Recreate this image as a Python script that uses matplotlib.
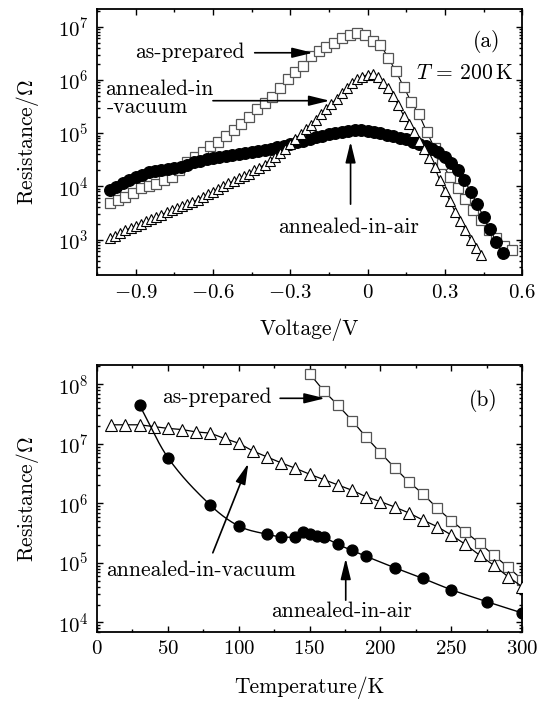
import numpy as np
import matplotlib
matplotlib.use("Agg")
import matplotlib.pyplot as plt
from matplotlib.ticker import LogLocator, MultipleLocator, NullFormatter

plt.rcParams["font.family"] = "cmr10"
plt.rcParams["mathtext.fontset"] = "cm"
plt.rcParams["axes.formatter.use_mathtext"] = True

# (a) resistance vs voltage at T = 200 K, values as log10(R / Ohm)
V_prep = [-1.00, -0.97, -0.94, -0.91, -0.88, -0.85, -0.82, -0.79, -0.76, -0.73,
          -0.70, -0.67, -0.64, -0.61, -0.58, -0.55, -0.52, -0.49, -0.46, -0.43,
          -0.40, -0.37, -0.34, -0.31, -0.28, -0.25, -0.22, -0.19, -0.16, -0.13,
          -0.10, -0.07, -0.04, -0.01, 0.02, 0.05, 0.08, 0.11, 0.14, 0.17,
          0.20, 0.23, 0.26, 0.29, 0.32, 0.35, 0.38, 0.41, 0.44, 0.47,
          0.50, 0.53, 0.56]
logR_prep = [3.68, 3.74, 3.80, 3.88, 3.96, 4.00, 4.05, 4.11, 4.18, 4.30,
             4.45, 4.56, 4.65, 4.76, 4.84, 4.94, 5.06, 5.18, 5.31, 5.46,
             5.57, 5.68, 5.84, 6.02, 6.14, 6.26, 6.44, 6.54, 6.61, 6.69,
             6.78, 6.84, 6.88, 6.85, 6.74, 6.66, 6.42, 6.16, 5.87, 5.58,
             5.35, 5.02, 4.72, 4.42, 4.18, 3.96, 3.76, 3.56, 3.37, 3.18,
             3.02, 2.88, 2.80]

V_air = [-1.000, -0.975, -0.950, -0.925, -0.900, -0.875, -0.850, -0.825, -0.800, -0.775,
         -0.750, -0.725, -0.700, -0.675, -0.650, -0.625, -0.600, -0.575, -0.550, -0.525,
         -0.500, -0.475, -0.450, -0.425, -0.400, -0.375, -0.350, -0.325, -0.300, -0.275,
         -0.250, -0.225, -0.200, -0.175, -0.150, -0.125, -0.100, -0.075, -0.050, -0.025,
         0.000, 0.025, 0.050, 0.075, 0.100, 0.125, 0.150, 0.175, 0.200, 0.225,
         0.250, 0.275, 0.300, 0.325, 0.350, 0.375, 0.400, 0.425, 0.450, 0.475,
         0.500, 0.525]
logR_air = [3.93, 3.99, 4.06, 4.12, 4.17, 4.22, 4.26, 4.29, 4.31, 4.33,
            4.35, 4.37, 4.41, 4.45, 4.48, 4.51, 4.53, 4.55, 4.57, 4.59,
            4.61, 4.63, 4.65, 4.67, 4.69, 4.71, 4.73, 4.76, 4.80, 4.83,
            4.86, 4.89, 4.92, 4.95, 4.98, 5.00, 5.02, 5.04, 5.05, 5.05,
            5.04, 5.03, 5.00, 4.97, 4.94, 4.91, 4.88, 4.84, 4.80, 4.76,
            4.71, 4.65, 4.55, 4.44, 4.31, 4.12, 3.90, 3.67, 3.43, 3.19,
            2.96, 2.74]

V_vac = [-1.00, -0.98, -0.96, -0.94, -0.92, -0.90, -0.88, -0.86, -0.84, -0.82,
         -0.80, -0.78, -0.76, -0.74, -0.72, -0.70, -0.68, -0.66, -0.64, -0.62,
         -0.60, -0.58, -0.56, -0.54, -0.52, -0.50, -0.48, -0.46, -0.44, -0.42,
         -0.40, -0.38, -0.36, -0.34, -0.32, -0.30, -0.28, -0.26, -0.24, -0.22,
         -0.20, -0.18, -0.16, -0.14, -0.12, -0.10, -0.08, -0.06, -0.04, -0.02,
         0.00, 0.02, 0.04, 0.06, 0.08, 0.10, 0.12, 0.14, 0.16, 0.18,
         0.20, 0.22, 0.24, 0.26, 0.28, 0.30, 0.32, 0.34, 0.36, 0.38,
         0.40, 0.42, 0.44]
logR_vac = [3.02, 3.07, 3.12, 3.17, 3.22, 3.26, 3.30, 3.34, 3.38, 3.42,
            3.47, 3.51, 3.55, 3.59, 3.63, 3.67, 3.70, 3.75, 3.80, 3.85,
            3.90, 3.95, 4.01, 4.06, 4.10, 4.15, 4.20, 4.24, 4.30, 4.35,
            4.41, 4.48, 4.55, 4.62, 4.71, 4.80, 4.89, 4.98, 5.07, 5.16,
            5.25, 5.35, 5.45, 5.55, 5.65, 5.75, 5.85, 5.94, 6.01, 6.06,
            6.10, 6.12, 6.06, 5.95, 5.84, 5.70, 5.52, 5.33, 5.17, 5.03,
            4.85, 4.70, 4.53, 4.36, 4.12, 3.92, 3.72, 3.52, 3.35, 3.18,
            3.00, 2.85, 2.71]

# (b) resistance vs temperature
T_prep = [150, 160, 170, 180, 190, 200, 210, 220, 230, 240, 250, 260, 270, 280, 290, 300]
logRT_prep = [8.18, 7.89, 7.65, 7.39, 7.11, 6.85, 6.60, 6.36, 6.16, 5.92,
              5.71, 5.52, 5.33, 5.13, 4.93, 4.72]

T_vac = [10, 20, 30, 40, 50, 60, 70, 80, 90, 100, 110, 120, 130, 140, 150,
         160, 170, 180, 190, 200, 210, 220, 230, 240, 250, 260, 270, 280, 290, 300]
logRT_vac = [7.32, 7.32, 7.32, 7.29, 7.26, 7.24, 7.20, 7.18, 7.09, 7.01,
             6.88, 6.78, 6.68, 6.59, 6.49, 6.40, 6.31, 6.22, 6.11, 6.03,
             5.94, 5.84, 5.72, 5.61, 5.47, 5.31, 5.13, 4.96, 4.77, 4.60]

T_air = [30, 50, 80, 100, 120, 130, 140, 145, 150, 155, 160, 170, 180, 190, 210, 230, 250, 275, 300]
logRT_air = [7.65, 6.77, 5.97, 5.62, 5.48, 5.44, 5.44, 5.52, 5.48, 5.45,
             5.43, 5.31, 5.21, 5.11, 4.92, 4.74, 4.55, 4.35, 4.16]

xticks_a = [-0.9, -0.6, -0.3, 0, 0.3, 0.6]
xlabels_a = ["$-0.9$", "$-0.6$", "$-0.3$", "$0$", "$0.3$", "$0.6$"]
xticks_b = [0, 50, 100, 150, 200, 250, 300]

FS = 15
ANN = 15.5

fig = plt.figure(figsize=(5.5, 7.02), dpi=100)
ax1 = fig.add_axes([0.1764, 0.608, 0.773, 0.379])
ax2 = fig.add_axes([0.1764, 0.0997, 0.773, 0.380])


def style_axis(ax):
    ax.set_yscale("log")
    ax.yaxis.set_major_locator(LogLocator(base=10))
    ax.yaxis.set_minor_locator(LogLocator(base=10, subs=np.arange(2, 10)))
    ax.yaxis.set_minor_formatter(NullFormatter())
    ax.tick_params(which="both", direction="in", top=True, right=True,
                   labelsize=FS, width=1.0)
    ax.tick_params(which="major", length=4.5, pad=6)
    ax.tick_params(which="minor", length=2.2)
    for s in ax.spines.values():
        s.set_linewidth(1.3)


def smooth_line(x, y, n=25):
    # cubic Hermite curve through the points, used only to draw the guide line
    x = np.asarray(x, float)
    y = np.asarray(y, float)
    m = np.empty_like(y)
    m[1:-1] = (y[2:] - y[:-2]) / (x[2:] - x[:-2])
    m[0] = (y[1] - y[0]) / (x[1] - x[0])
    m[-1] = (y[-1] - y[-2]) / (x[-1] - x[-2])
    xs, ys = [], []
    for k in range(len(x) - 1):
        h = x[k + 1] - x[k]
        t = np.linspace(0, 1, n, endpoint=False)
        h00 = 2 * t**3 - 3 * t**2 + 1
        h10 = t**3 - 2 * t**2 + t
        h01 = -2 * t**3 + 3 * t**2
        h11 = t**3 - t**2
        xs.append(x[k] + t * h)
        ys.append(h00 * y[k] + h10 * h * m[k] + h01 * y[k + 1] + h11 * h * m[k + 1])
    xs.append([x[-1]])
    ys.append([y[-1]])
    return np.concatenate(xs), np.concatenate(ys)


arr = dict(arrowstyle="-|>,head_length=0.9,head_width=0.22", color="k", lw=1.2,
           shrinkA=0, shrinkB=0, mutation_scale=14)

# ---- panel (a)
ax1.plot(V_prep, 10 ** np.array(logR_prep), "-", color="k", lw=0.8,
         marker="s", ms=6.9, mfc="white", mec="#555555", mew=0.9, zorder=2)
ax1.plot(V_air, 10 ** np.array(logR_air), "-", color="k", lw=0.8,
         marker="o", ms=8.3, mfc="k", mec="k", zorder=3)
ax1.plot(V_vac, 10 ** np.array(logR_vac), "-", color="k", lw=0.8,
         marker="^", ms=7.5, mfc="white", mec="k", mew=0.8, zorder=4)
style_axis(ax1)
ax1.set_xlim(-1.05, 0.6)
ax1.set_ylim(10 ** 2.33, 10 ** 7.33)
ax1.set_xticks(xticks_a)
ax1.set_xticklabels(xlabels_a)
ax1.xaxis.set_minor_locator(MultipleLocator(0.15))
ax1.set_xlabel("Voltage/V", fontsize=FS + 0.5, labelpad=12)
ax1.set_ylabel(r"Resistance/$\mathit{\Omega}$", fontsize=FS + 0.5, va="center")
ax1.yaxis.set_label_coords(-0.163, 0.5)

ax1.text(-0.477, 10 ** 6.41, "as-prepared", fontsize=ANN, ha="right", va="baseline")
ax1.annotate("", xy=(-0.212, 10 ** 6.51), xytext=(-0.438, 10 ** 6.51), arrowprops=arr)
ax1.text(-1.02, 10 ** 5.716, "annealed-in", fontsize=ANN, ha="left", va="baseline")
ax1.text(-1.0135, 10 ** 5.38, "-vacuum", fontsize=ANN, ha="left", va="baseline")
ax1.annotate("", xy=(-0.147, 10 ** 5.609), xytext=(-0.600, 10 ** 5.609), arrowprops=arr)
ax1.text(-0.0725, 10 ** 3.117, "annealed-in-air", fontsize=ANN, ha="center", va="baseline")
ax1.annotate("", xy=(-0.066, 10 ** 4.838), xytext=(-0.066, 10 ** 3.665), arrowprops=arr)
ax1.text(0.917, 0.877, "(a)", fontsize=ANN, ha="center", va="center", transform=ax1.transAxes)
ax1.text(0.865, 0.758, r"$T$ = 200$\,$K", fontsize=ANN, ha="center", va="center",
         transform=ax1.transAxes)

# ---- panel (b)
ax2.plot(T_prep, 10 ** np.array(logRT_prep), "-", color="k", lw=0.9,
         marker="s", ms=7.2, mfc="white", mec="#555555", mew=0.9, zorder=2)
ax2.plot(T_vac, 10 ** np.array(logRT_vac), "-", color="k", lw=0.9,
         marker="^", ms=8.2, mfc="white", mec="k", mew=0.8, zorder=3)
sx, sy = smooth_line(T_air, logRT_air)
ax2.plot(sx, 10 ** sy, "-", color="k", lw=1.0, zorder=4)
ax2.plot(T_air, 10 ** np.array(logRT_air), "o", ms=7.8, mfc="k", mec="k", zorder=5)
style_axis(ax2)
ax2.set_xlim(0, 300)
ax2.set_ylim(10 ** 3.84, 10 ** 8.32)
ax2.set_xticks(xticks_b)
ax2.xaxis.set_minor_locator(MultipleLocator(25))
ax2.set_xlabel("Temperature/K", fontsize=FS + 0.5, labelpad=13)
ax2.set_ylabel(r"Resistance/$\mathit{\Omega}$", fontsize=FS + 0.5, va="center")
ax2.yaxis.set_label_coords(-0.163, 0.5)

ax2.text(123.3, 10 ** 7.68, "as-prepared", fontsize=ANN, ha="right", va="baseline")
ax2.annotate("", xy=(160.9, 10 ** 7.765), xytext=(129.2, 10 ** 7.765), arrowprops=arr)
ax2.text(6.1, 10 ** 4.778, "annealed-in-vacuum", fontsize=ANN, ha="left", va="baseline")
ax2.annotate("", xy=(106.8, 10 ** 6.672), xytext=(81.7, 10 ** 5.17), arrowprops=arr)
ax2.text(172.7, 10 ** 4.084, "annealed-in-air", fontsize=ANN, ha="center", va="baseline")
ax2.annotate("", xy=(175.5, 10 ** 5.076), xytext=(175.5, 10 ** 4.375), arrowprops=arr)
ax2.text(0.909, 0.869, "(b)", fontsize=ANN, ha="center", va="center", transform=ax2.transAxes)

fig.savefig("out.png", dpi=100)
